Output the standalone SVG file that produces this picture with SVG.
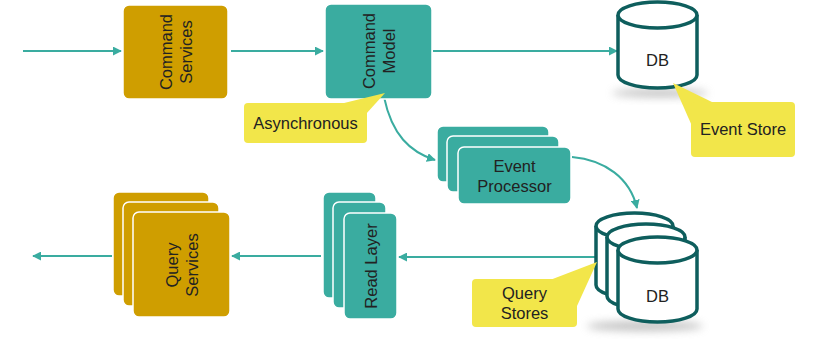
<svg xmlns="http://www.w3.org/2000/svg" width="831" height="339" viewBox="0 0 831 339">
<defs>
<style>
.gold{fill:#cf9e00;stroke:#fff;stroke-width:1.5}
.teal{fill:#3aaca0;stroke:#fff;stroke-width:1.5}
.lbl{font-family:"Liberation Sans","DejaVu Sans",sans-serif;font-size:16.5px;fill:#222;text-anchor:middle}
.conn{fill:none;stroke:#3aaca0;stroke-width:2}
.call{fill:#f2e64a}
.cyl{fill:#fff;stroke:#0e5e5d;stroke-width:3.5;stroke-linejoin:round}
</style>
<marker id="ah" viewBox="0 0 10 10" refX="9" refY="5" markerWidth="9" markerHeight="9" markerUnits="userSpaceOnUse" orient="auto">
<path d="M0,0 L10,5 L0,10 z" fill="#3aaca0"/>
</marker>
<filter id="blur" x="-50%" y="-100%" width="200%" height="300%"><feGaussianBlur stdDeviation="4"/></filter>
</defs>
<rect width="831" height="339" fill="#fff"/>

<g id="connectors">
<line class="conn" x1="23" y1="51" x2="121" y2="51" marker-end="url(#ah)"/>
<line class="conn" x1="231" y1="51" x2="323" y2="51" marker-end="url(#ah)"/>
<line class="conn" x1="433" y1="51" x2="617" y2="51" marker-end="url(#ah)"/>
<path class="conn" d="M384,97 C392,135 410,152 435,160" marker-end="url(#ah)"/>
<path class="conn" d="M572,157 C605,160 630,178 637,208" marker-end="url(#ah)"/>
<line class="conn" x1="595" y1="257" x2="399" y2="257" marker-end="url(#ah)"/>
<line class="conn" x1="321" y1="256" x2="232" y2="256" marker-end="url(#ah)"/>
<line class="conn" x1="112" y1="256" x2="33" y2="256" marker-end="url(#ah)"/>
</g>

<g id="command-services">
<rect class="gold" x="123" y="5" width="105" height="94" rx="6"/>
<text class="lbl" transform="translate(175.5,52) rotate(-90)"><tspan x="0" y="-4">Command</tspan><tspan x="0" y="16">Services</tspan></text>
</g>

<g id="command-model">
<rect class="teal" x="325" y="4" width="107" height="95" rx="6"/>
<text class="lbl" transform="translate(378.5,51) rotate(-90)"><tspan x="0" y="-4">Command</tspan><tspan x="0" y="16">Model</tspan></text>
</g>

<g id="asynchronous">
<polygon class="call" points="340,104 385,93 366,114"/>
<rect class="call" x="244" y="103" width="123" height="40" rx="4"/>
<text class="lbl" x="305.5" y="129">Asynchronous</text>
</g>

<g id="event-store-db">
<ellipse cx="660" cy="93" rx="48" ry="4" fill="#999" opacity="0.6" filter="url(#blur)"/>
<path class="cyl" d="M618,15 L618,75 A39.5,13 0 0 0 697,75 L697,15"/>
<ellipse class="cyl" cx="657.5" cy="15" rx="39.5" ry="13"/>
<text class="lbl" x="657.5" y="66">DB</text>
</g>

<g id="event-store">
<polygon class="call" points="673,83 714,103 692,126"/>
<rect class="call" x="691" y="102" width="104" height="55" rx="4"/>
<text class="lbl" x="743" y="135">Event Store</text>
</g>

<g id="event-processor">
<rect class="teal" x="437" y="126" width="112" height="56" rx="6"/>
<rect class="teal" x="447" y="136" width="112" height="56" rx="6"/>
<rect class="teal" x="458" y="147" width="113" height="57" rx="6"/>
<text class="lbl" x="514.5" y="172">Event</text>
<text class="lbl" x="514.5" y="192">Processor</text>
</g>

<g id="query-stores-db">
<ellipse cx="645" cy="326" rx="58" ry="5" fill="#999" opacity="0.6" filter="url(#blur)"/>
<path class="cyl" d="M596,226 L596,285 A38.5,13 0 0 0 673,285 L673,226"/>
<ellipse class="cyl" cx="634.5" cy="226" rx="38.5" ry="13"/>
<path class="cyl" d="M607,237 L607,296 A39,13 0 0 0 685,296 L685,237"/>
<ellipse class="cyl" cx="646" cy="237" rx="39" ry="13"/>
<path class="cyl" d="M618,250 L618,309 A39.5,13 0 0 0 697,309 L697,250"/>
<ellipse class="cyl" cx="657.5" cy="250" rx="39.5" ry="13"/>
<text class="lbl" x="657.5" y="302">DB</text>
</g>

<g id="query-stores">
<polygon class="call" points="550,280 597,262 577,306"/>
<rect class="call" x="472" y="279" width="105" height="48" rx="4"/>
<text class="lbl" x="524.5" y="299">Query</text>
<text class="lbl" x="524.5" y="319">Stores</text>
</g>

<g id="read-layer">
<rect class="teal" x="323" y="192" width="53" height="106" rx="6"/>
<rect class="teal" x="333" y="202" width="53" height="106" rx="6"/>
<rect class="teal" x="344" y="213" width="53" height="106" rx="6"/>
<text class="lbl" transform="translate(370.5,266) rotate(-90)" y="6">Read Layer</text>
</g>

<g id="query-services">
<rect class="gold" x="113" y="192" width="96" height="104" rx="6"/>
<rect class="gold" x="123" y="202" width="96" height="104" rx="6"/>
<rect class="gold" x="133" y="212" width="97" height="105" rx="6"/>
<text class="lbl" transform="translate(182,265) rotate(-90)"><tspan x="0" y="-4">Query</tspan><tspan x="0" y="16">Services</tspan></text>
</g>
</svg>
